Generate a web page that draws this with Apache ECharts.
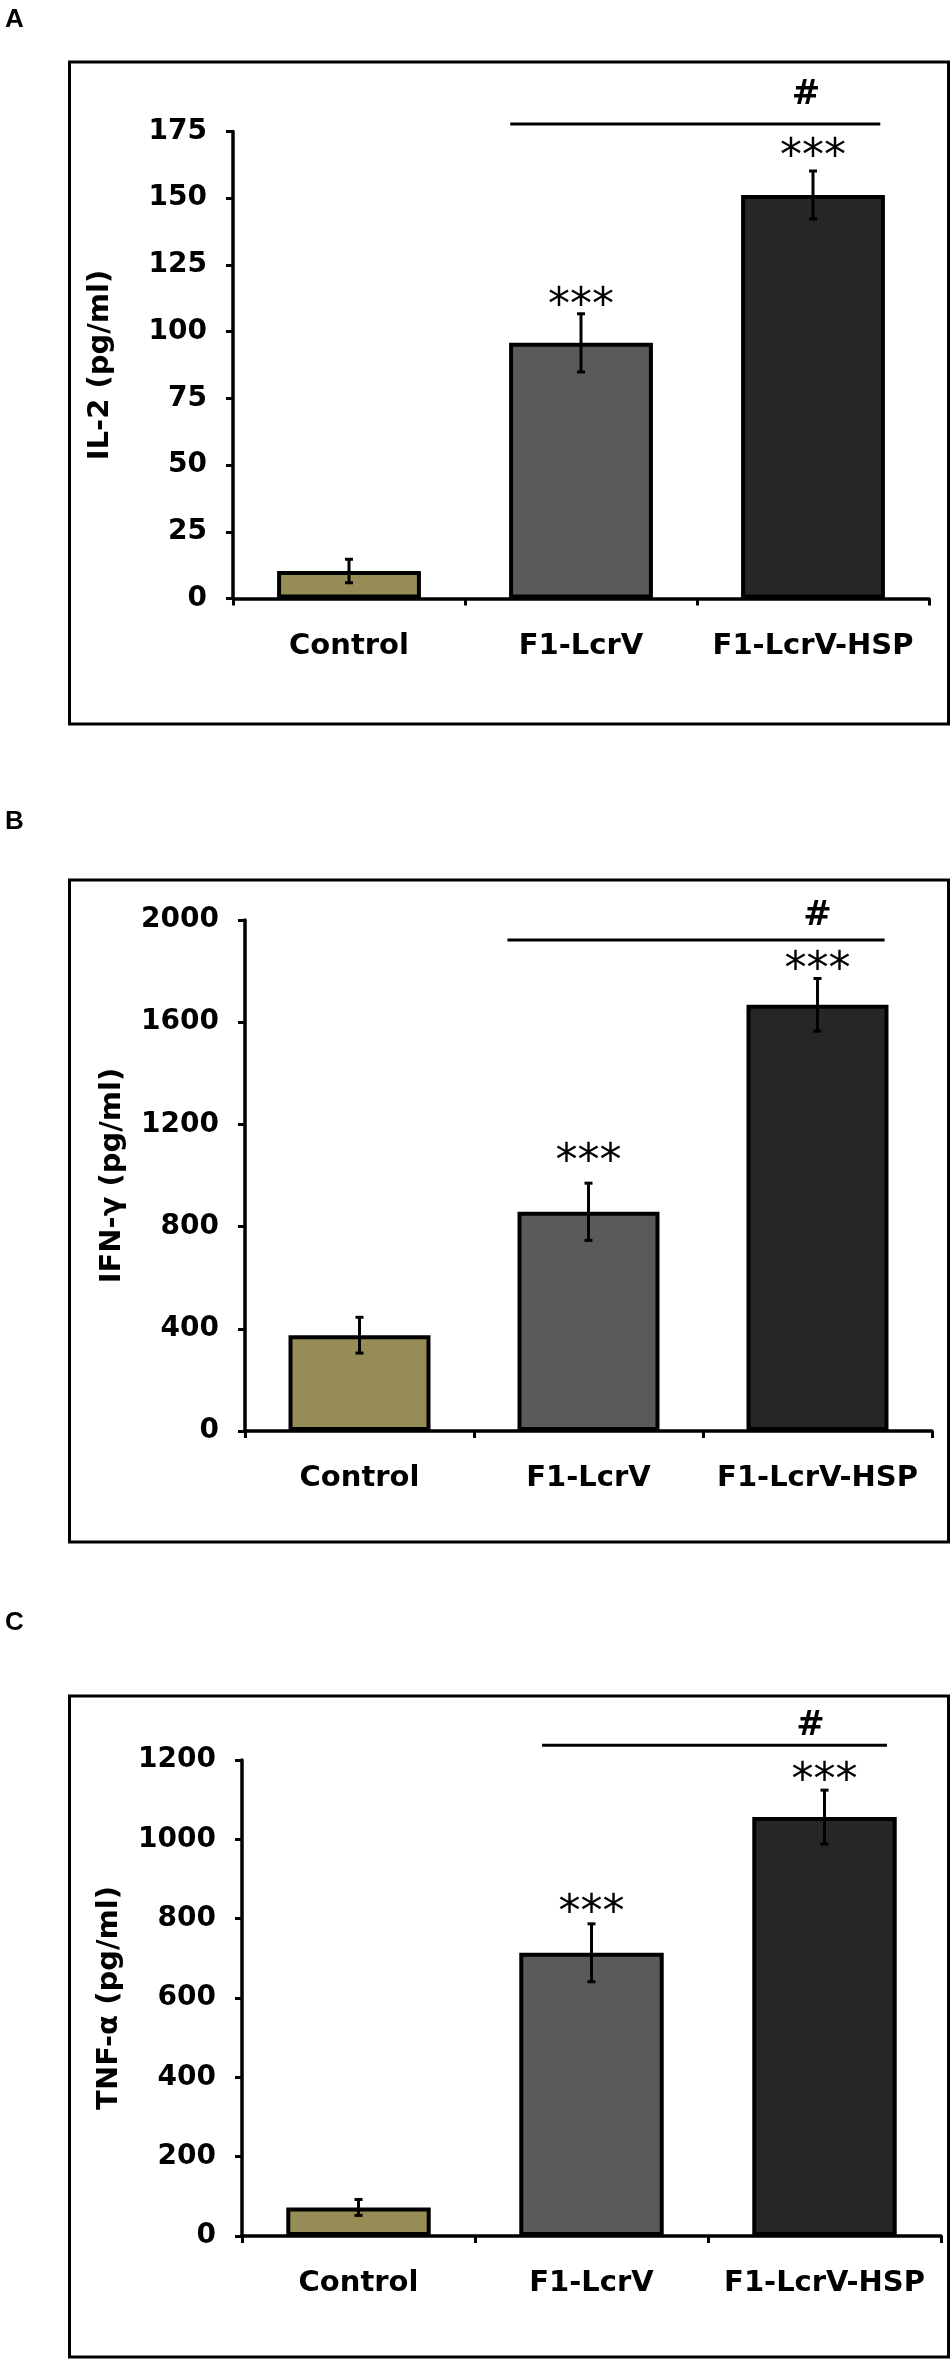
<!DOCTYPE html>
<html>
<head>
<meta charset="utf-8">
<script src="https://cdn.jsdelivr.net/npm/echarts@6/dist/echarts.min.js"></script>
<style>
  html, body { margin: 0; padding: 0; background: #fff; }
  #chart { width: 950px; height: 2365px; }
</style>
</head>
<body>
<div id="chart"></div>
<script>
// groups
const categories = ["Control", "F1-LcrV", "F1-LcrV-HSP"];
const barColors = ["#968C55", "#5A5A5A", "#262626"];

// A: IL-2
const il2Mean = [10.3, 95.8, 151.2];
const il2Err = [4.4, 10.9, 9.0];
const il2Axis = [0, 175, 25];
const il2Stars = [[1, 112.3], [2, 168.1]];
const il2Bracket = [[0.695, 2.29, 177.8]];
const il2Hash = [[1.97, 189.5]];

// B: IFN-γ
const ifnMean = [375, 858, 1668];
const ifnErr = [70, 112, 103];
const ifnAxis = [0, 2000, 400];
const ifnStars = [[1, 1080], [2, 1832]];
const ifnBracket = [[0.646, 2.293, 1922]];
const ifnHash = [[2.0, 2023]];

// C: TNF-α
const tnfMean = [72, 714, 1056];
const tnfErr = [20, 73, 68];
const tnfAxis = [0, 1200, 200];
const tnfStars = [[1, 834], [2, 1167]];
const tnfBracket = [[0.788, 2.268, 1237]];
const tnfHash = [[1.94, 1291]];

const FONT = "DejaVu Sans";

const panels = [
  { name: "IL-2 (pg/ml)", mean: il2Mean, err: il2Err, axis: il2Axis, stars: il2Stars, bracket: il2Bracket, hash: il2Hash,
    grid: { left: 233, right: 21, top: 131.5, height: 467 } },
  { name: "IFN-γ (pg/ml)", mean: ifnMean, err: ifnErr, axis: ifnAxis, stars: ifnStars, bracket: ifnBracket, hash: ifnHash,
    grid: { left: 245, right: 18, top: 920, height: 511 } },
  { name: "TNF-α (pg/ml)", mean: tnfMean, err: tnfErr, axis: tnfAxis, stars: tnfStars, bracket: tnfBracket, hash: tnfHash,
    grid: { left: 242, right: 9, top: 1760, height: 476 } }
];

function errorBar(params, api) {
  const c = api.value(0);
  const top = api.coord([c, api.value(2)]);
  const bot = api.coord([c, api.value(1)]);
  const x = top[0], cap = 4;
  const st = { stroke: "#000", lineWidth: 3 };
  return { type: "group", children: [
    { type: "line", shape: { x1: x, y1: top[1], x2: x, y2: bot[1] }, style: st },
    { type: "line", shape: { x1: x - cap, y1: top[1], x2: x + cap, y2: top[1] }, style: st },
    { type: "line", shape: { x1: x - cap, y1: bot[1], x2: x + cap, y2: bot[1] }, style: st }
  ]};
}

// position in category units measured from the first category centre
function catX(api, pos, y) {
  const band = api.size([1, 0])[0];
  return [api.coord([0, y])[0] + pos * band, api.coord([0, y])[1]];
}

function bracketLine(params, api) {
  const a = catX(api, api.value(0), api.value(2));
  const b = catX(api, api.value(1), api.value(2));
  return { type: "line", shape: { x1: a[0], y1: a[1], x2: b[0], y2: b[1] }, style: { stroke: "#000", lineWidth: 3 } };
}

function textMark(txt, size, weight, dy) {
  return function (params, api) {
    const p = catX(api, api.value(0), api.value(1));
    return { type: "text", x: p[0], y: p[1] + dy,
      style: { text: txt, fill: "#000", font: weight + " " + size + "px '" + FONT + "'", align: "center", verticalAlign: "middle" } };
  };
}

const grid = [], xAxis = [], yAxis = [], series = [];
panels.forEach((p, i) => {
  grid.push(p.grid);
  xAxis.push({
    type: "category", gridIndex: i, data: categories,
    axisLine: { lineStyle: { color: "#000", width: 3.5 } },
    axisTick: { show: true, length: 7, lineStyle: { color: "#000", width: 3 } },
    axisLabel: { color: "#000", fontFamily: FONT, fontWeight: "bold", fontSize: 29, margin: 33,
      interval: 0, hideOverlap: false },
    splitLine: { show: false }
  });
  yAxis.push({
    type: "value", gridIndex: i, min: p.axis[0], max: p.axis[1], interval: p.axis[2],
    name: p.name, nameLocation: "middle", nameGap: 118, nameRotate: 90,
    nameTextStyle: { color: "#000", fontFamily: FONT, fontWeight: "bold", fontSize: 29 },
    axisLine: { show: true, lineStyle: { color: "#000", width: 3.5 } },
    axisTick: { show: true, length: 7, lineStyle: { color: "#000", width: 3 } },
    axisLabel: { color: "#000", fontFamily: FONT, fontWeight: "bold", fontSize: 28, margin: 26,
      formatter: v => String(v) },
    splitLine: { show: false }
  });
  series.push({
    type: "bar", xAxisIndex: i, yAxisIndex: i, barWidth: "62%",
    data: p.mean.map((v, k) => ({ value: v, itemStyle: { color: barColors[k] } })),
    itemStyle: { borderColor: "#000", borderWidth: 4 },
    silent: true, animation: false
  });
  series.push({
    type: "custom", xAxisIndex: i, yAxisIndex: i, renderItem: errorBar,
    data: p.mean.map((v, k) => [k, v - p.err[k], v + p.err[k]]),
    encode: { x: 0, y: [1, 2] }, z: 5, silent: true, animation: false
  });
  series.push({
    type: "custom", xAxisIndex: i, yAxisIndex: i, renderItem: textMark("***", 44, "normal", 9),
    data: p.stars, clip: false, z: 6, silent: true, animation: false
  });
  series.push({
    type: "custom", xAxisIndex: i, yAxisIndex: i, renderItem: bracketLine,
    data: p.bracket, clip: false, z: 6, silent: true, animation: false
  });
  series.push({
    type: "custom", xAxisIndex: i, yAxisIndex: i, renderItem: textMark("#", 34, "bold", 2),
    data: p.hash, clip: false, z: 6, silent: true, animation: false
  });
});

const frames = [[62, 724], [880, 1542], [1696, 2357]];
const letters = [["A", 20], ["B", 822], ["C", 1623]];
const graphic = [];
frames.forEach(f => graphic.push({
  type: "rect", shape: { x: 69.5, y: f[0], width: 879, height: f[1] - f[0] },
  style: { fill: "none", stroke: "#000", lineWidth: 3 }, silent: true
}));
letters.forEach(l => graphic.push({
  type: "text", x: 5, y: l[1],
  style: { text: l[0], fill: "#000", font: "bold 26px 'Liberation Sans'", verticalAlign: "middle" }
}));

const chart = echarts.init(document.getElementById("chart"));
chart.setOption({ animation: false, backgroundColor: "#fff", grid, xAxis, yAxis, series, graphic });
window.addEventListener("resize", () => chart.resize());
</script>
</body>
</html>
